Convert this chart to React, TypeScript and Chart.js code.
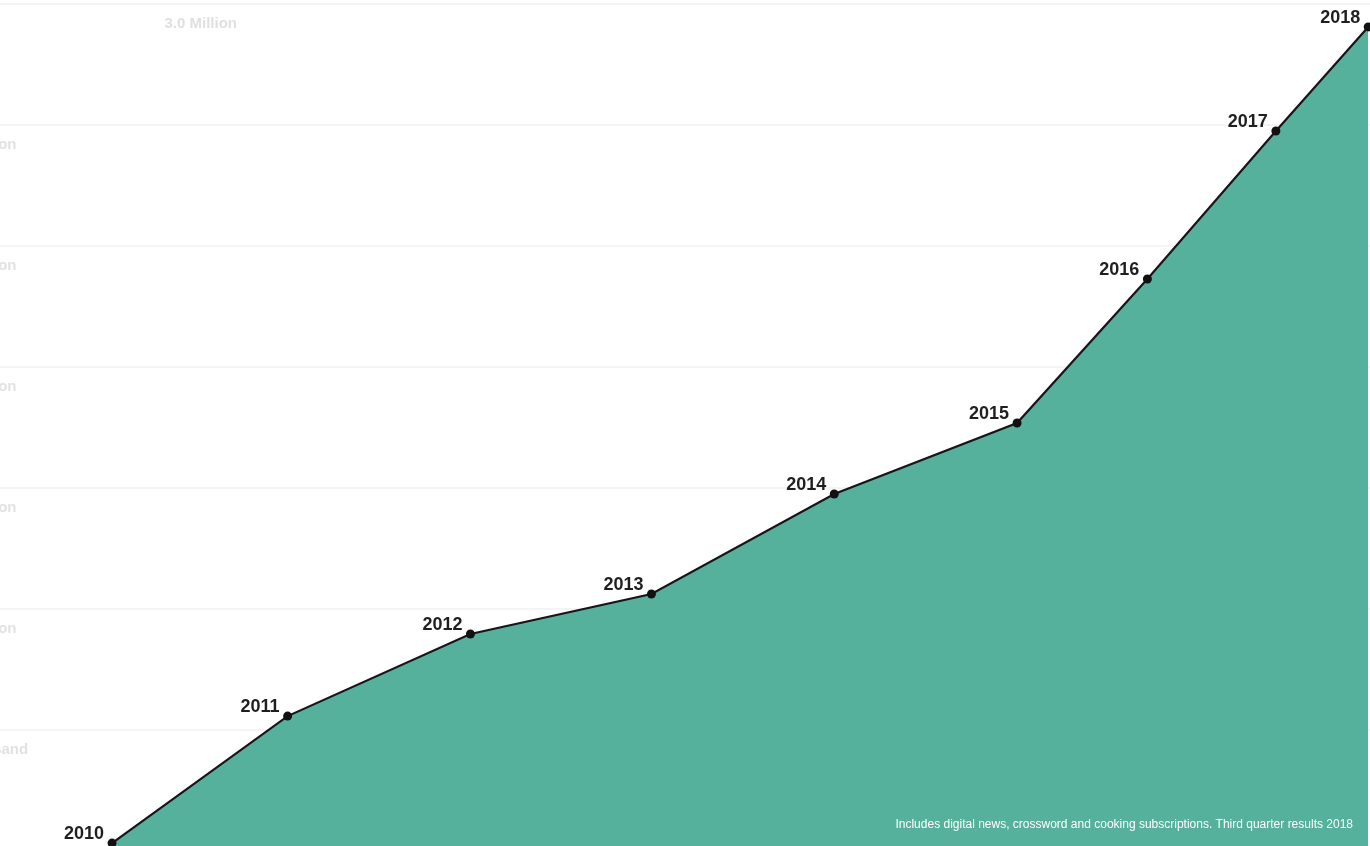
import React, { useEffect, useRef } from 'react';
import { Chart, registerables } from 'chart.js';

Chart.register(...registerables);

// ---- data ----
const YEARS = ['2010', '2011', '2012', '2013', '2014', '2015', '2016', '2017', '2018'];
// horizontal position of each point, in (fractional) years
const X_POS = [2010.0, 2010.97, 2011.98, 2012.98, 2013.99, 2015.0, 2015.72, 2016.43, 2016.94];
// digital subscriptions, millions
const SUBSCRIBERS_M = [0, 0.476, 0.784, 0.934, 1.309, 1.575, 2.115, 2.67, 3.06];

// faint background grid (millions) and its labels
const GRID_VALUES = [0, 0.5, 1.0, 1.5, 2.0, 2.5, 3.0];
const GRID_LABELS = ['0 Thousand', '0.5 Million', '1.0 Million', '1.5 Million', '2.0 Million', '2.5 Million', ''];
const TOP_LABEL = '3.0 Million';
const FOOTNOTE = 'Includes digital news, crossword and cooking subscriptions. Third quarter results 2018';

const FONT = '"Liberation Sans", Arial, Helvetica, sans-serif';

const annotate = {
  id: 'annotate',
  afterDatasetsDraw(chart: any) {
    const ctx = chart.ctx;
    const meta = chart.getDatasetMeta(0);
    ctx.save();
    ctx.font = `bold 18px ${FONT}`;
    ctx.fillStyle = '#1f1f1f';
    ctx.textAlign = 'right';
    ctx.textBaseline = 'alphabetic';
    meta.data.forEach((pt: any, i: number) => {
      ctx.fillText(YEARS[i], pt.x - 8, pt.y - 4);
    });

    const { right, bottom } = chart.chartArea;
    ctx.font = `12px ${FONT}`;
    ctx.fillStyle = '#ffffff';
    ctx.textBaseline = 'middle';
    ctx.fillText(FOOTNOTE, right - 17, bottom - 21);

    const ys = chart.scales.y;
    ctx.font = `bold 15px ${FONT}`;
    ctx.fillStyle = '#e0e0e0';
    ctx.fillText(TOP_LABEL, 237, ys.getPixelForValue(GRID_VALUES[GRID_VALUES.length - 1]) + 20);
    ctx.restore();
  },
};

export default function App() {
  const ref = useRef<HTMLCanvasElement | null>(null);

  useEffect(() => {
    if (!ref.current) return;
    const points = X_POS.map((x, i) => ({ x, y: SUBSCRIBERS_M[i] }));
    const chart = new Chart(ref.current, {
      type: 'line',
      data: {
        datasets: [
          {
            data: points,
            xAxisID: 'x',
            yAxisID: 'yd',
            borderColor: '#161616',
            borderWidth: 2.2,
            backgroundColor: '#55b19c',
            fill: 'start',
            tension: 0,
            pointRadius: 4.5,
            pointBackgroundColor: '#111111',
            pointBorderWidth: 0,
            clip: false as any,
          },
        ],
      },
      options: {
        animation: false,
        responsive: true,
        maintainAspectRatio: false,
        layout: { padding: 0, autoPadding: false },
        plugins: {
          legend: { display: false },
          tooltip: { enabled: false },
          title: { display: false },
        },
        scales: {
          x: { type: 'linear', display: false, min: 2009.381, max: 2016.95 },
          y: {
            type: 'linear',
            position: 'left',
            min: -0.4793,
            max: 3.0165,
            afterBuildTicks: (s: any) => {
              s.ticks = GRID_VALUES.map((v) => ({ value: v }));
            },
            afterFit: (s: any) => {
              s.paddingTop = 0;
              s.paddingBottom = 0;
              s.width = 0;
            },
            grid: { color: 'rgba(0,0,0,0.045)', lineWidth: 2, drawTicks: false },
            border: { display: false },
            ticks: {
              mirror: true,
              padding: -56,
              labelOffset: 20,
              autoSkip: false,
              color: '#e2e2e2',
              font: { family: FONT, size: 15, weight: 'bold' },
              callback: (_v: any, i: number) => GRID_LABELS[i],
            },
          },
          yd: { type: 'linear', display: false, min: -0.011, max: 3.161 },
        },
      } as any,
      plugins: [annotate],
    });
    return () => chart.destroy();
  }, []);

  return (
    <div style={{ position: 'fixed', left: 0, top: 0, width: 1370, height: 846, background: '#ffffff' }}>
      <canvas ref={ref} />
    </div>
  );
}
